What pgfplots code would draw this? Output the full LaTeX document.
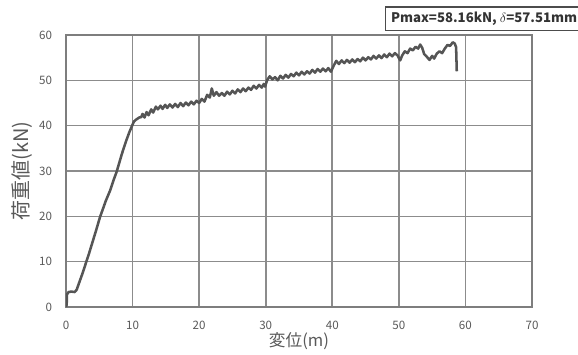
\documentclass[border=0pt]{standalone}
\usepackage{fontspec}
\setmainfont{Noto Sans CJK JP}
\usepackage{pgfplots}
\pgfplotsset{compat=1.18}
\definecolor{txt}{HTML}{595959}
\definecolor{gridc}{HTML}{8C8C8C}
\definecolor{linec}{HTML}{555555}
\begin{document}
\begin{tikzpicture}
\begin{axis}[
  scale only axis,
  width=349.5pt, height=204pt,
  at={(49.5pt,35.25pt)}, anchor=south west,
  xmin=0, xmax=70, ymin=0, ymax=60,
  xtick={0,10,20,30,40,50,60,70}, ytick={0,10,20,30,40,50,60},
  xmajorgrids, ymajorgrids,
  grid style={gridc, line width=1.2pt},
  tick style={gridc, line width=1.2pt},
  axis line style={draw=gridc!90!black, line width=1.2pt},
  /pgf/number format/assume math mode=true,
  tick label style={font=\fontsize{8.7pt}{10pt}\selectfont, text=txt},
  xticklabel shift=7pt, yticklabel shift=7pt,
  xlabel={変位(m)}, ylabel={荷重値(kN)},
  xlabel style={font=\fontsize{12.5pt}{14pt}\selectfont, text=txt, yshift=5pt},
  ylabel style={font=\fontsize{15pt}{17pt}\selectfont, text=txt, yshift=-2pt},
]
\addplot[linec, line width=1.9pt, line join=round] coordinates {
(0,0)(0.1,0.5)(0.15,2.8)(0.4,3.3)(0.8,3.4)(1.3,3.3)(1.6,3.8)(2.5,7.5)(3.5,12)(4.5,16.8)(5.1,19.8)(6,23.5)(6.6,25.6)(7.1,27.8)(7.6,29.8)(8.4,33.8)(9,36.5)(9.5,38.5)(9.9,39.9)(10.2,40.9)(10.5,41.3)(11,41.8)(11.3,41.9)
(11.5,42.6)(11.8,41.8)(12.1,43.0)(12.4,42.3)(12.8,43.6)(13.1,42.9)(13.5,44.2)(13.8,43.6)(14.2,44.4)(14.5,43.7)(14.9,44.6)(15.2,43.9)(15.6,44.7)(16,44.0)(16.4,44.8)(16.8,44.1)(17.2,45.0)(17.6,44.3)(18,45.1)(18.4,44.5)(18.8,45.3)(19.2,44.7)(19.6,45.5)(20,45.0)(20.4,45.9)(20.8,45.3)(21.2,46.8)(21.6,46.2)(21.9,48.2)(22.2,46.6)(22.6,47.4)(23,46.6)(23.4,47.2)(23.8,46.6)(24.2,47.5)(24.6,46.9)(25,47.7)(25.4,47.1)(25.8,48.0)(26.2,47.4)(26.6,48.2)(27,47.6)(27.4,48.4)(27.8,47.9)(28.2,48.8)(28.6,48.2)(29,49.0)(29.4,48.4)(29.7,49.2)(29.9,48.6)(30.2,50.0)(30.6,50.9)(31,50.2)(31.4,50.7)(31.8,50.0)(32.2,51.0)(32.6,50.4)(33,51.2)(33.4,50.6)(33.8,51.4)(34.2,50.9)(34.6,51.7)(35,51.1)(35.4,51.9)(35.8,51.3)(36.2,52.0)(36.6,51.5)(37,52.3)(37.4,51.7)(37.8,52.5)(38.2,51.9)(38.6,52.6)(39,52.0)(39.4,52.7)(39.8,51.9)(40.2,53.2)(40.6,54.3)(41,53.6)(41.4,54.4)(41.8,53.8)(42.2,54.5)(42.6,53.9)(43,54.6)(43.4,54.0)(43.8,54.7)(44.2,54.2)(44.6,55.0)(45,54.4)(45.4,55.1)(45.8,54.6)(46.2,55.4)(46.6,54.8)(47,55.5)(47.4,54.9)(47.8,55.7)(48.2,55.1)(48.6,55.9)(49,55.3)(49.4,56.0)(49.8,55.5)(50.2,54.4)(50.5,55.5)(50.9,56.4)(51.3,56.0)(51.7,57.0)(52.1,56.6)(52.5,57.4)(52.9,57.0)(53.2,57.9)(53.5,57.2)(53.8,55.8)(54.2,55.2)(54.6,54.5)(55,55.4)(55.3,54.8)(55.7,55.9)(56.1,56.4)(56.5,56.0)(56.9,57.0)(57.3,57.8)(57.7,57.6)(58.1,58.4)(58.4,58.1)(58.6,57.3)(58.7,52.0)
};
\end{axis}
\node[draw=black!70, line width=1pt, anchor=west, inner xsep=4pt, minimum height=17.5pt,
  font=\fontsize{9.9pt}{11pt}\selectfont\bfseries, text=black!80]
  at (288.75pt,251.6pt) {Pmax=58.16kN, $\delta$=57.51mm};
\pgfresetboundingbox
\path (0,0) rectangle (433.5pt,265.5pt);
\end{tikzpicture}
\end{document}
